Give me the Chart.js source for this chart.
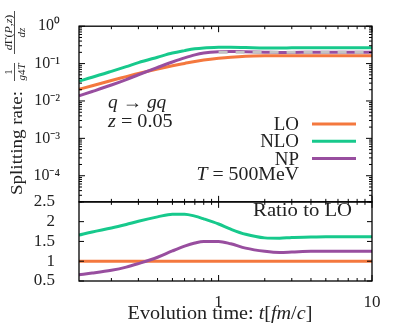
<!DOCTYPE html>
<html>
<head>
<meta charset="utf-8">
<script src="https://cdn.jsdelivr.net/npm/chart.js@4.4.1/dist/chart.umd.min.js"></script>
<style>
  html, body { margin: 0; padding: 0; background: #fff; }
</style>
</head>
<body>
<canvas id="myChart" width="398" height="332"></canvas>
<script>
// evolution time t [fm/c]
var times = [0.123, 0.15, 0.2, 0.25, 0.3, 0.4, 0.5, 0.6, 0.7, 0.8, 1.0, 1.2, 1.5, 2, 2.5, 3, 4, 5, 7, 10];

// splitting rate (upper panel, log axis)
var rateLO  = [0.0205, 0.0255, 0.0353, 0.0447, 0.0543, 0.0718, 0.0873, 0.101, 0.114, 0.124, 0.138, 0.148, 0.157, 0.162, 0.163, 0.163, 0.163, 0.163, 0.163, 0.163];
var rateNLO = [0.034, 0.043, 0.062, 0.083, 0.106, 0.148, 0.191, 0.222, 0.248, 0.262, 0.272, 0.274, 0.269, 0.262, 0.262, 0.264, 0.265, 0.266, 0.266, 0.266];
var rateNP  = [0.0137, 0.0179, 0.0267, 0.0374, 0.0503, 0.0785, 0.110, 0.142, 0.171, 0.191, 0.208, 0.212, 0.207, 0.202, 0.199, 0.199, 0.2, 0.2, 0.2, 0.2];

// grey reference level for NP
var refTimes = [1.0, 10];
var refNP = [0.2, 0.2];

// ratio to LO (lower panel)
var ratioLO  = [1, 1, 1, 1, 1, 1, 1, 1, 1, 1, 1, 1, 1, 1, 1, 1, 1, 1, 1, 1];
var ratioNLO = [1.66, 1.74, 1.84, 1.93, 2.01, 2.12, 2.19, 2.19, 2.14, 2.07, 1.94, 1.81, 1.68, 1.59, 1.58, 1.60, 1.61, 1.62, 1.62, 1.62];
var ratioNP  = [0.66, 0.70, 0.77, 0.85, 0.94, 1.10, 1.26, 1.38, 1.46, 1.50, 1.50, 1.44, 1.33, 1.25, 1.22, 1.23, 1.25, 1.25, 1.25, 1.25];

// axis ticks that carry a label
var xLabels = [1, 10];
var yDecades = [-4, -3, -2, -1, 0];

var ORANGE = "#f4783e";
var GREEN = "#17c98c";
var PURPLE = "#984e9f";
var GREY = "#c4c4c4";
var SERIF = "'Liberation Serif', 'Times New Roman', serif";
var INK = "#222";

var SUP = {"-": "\u207b", "0": "\u2070", "1": "\u00b9", "2": "\u00b2", "3": "\u00b3", "4": "\u2074", "5": "\u2075"};

function pts(xs, ys) {
  return xs.map(function (x, i) { return {x: x, y: ys[i]}; });
}

// integer significand 1..9 of a "round" log tick, 0 otherwise
function significand(v) {
  var e = Math.floor(Math.log10(v) + 1e-9);
  var s = v / Math.pow(10, e);
  var r = Math.round(s);
  return (Math.abs(s - r) < 1e-6 && r < 10) ? r : 0;
}

// draw a run of text pieces [text, italic], stretched by sx (the TeX font is wider)
function run(ctx, parts, x, y, size, align, sx) {
  sx = sx || 1;
  var w = 0;
  parts.forEach(function (p) {
    ctx.font = (p[1] ? "italic " : "") + size + "px " + SERIF;
    w += ctx.measureText(p[0]).width;
  });
  if (align === "right") x -= w * sx;
  if (align === "center") x -= w * sx / 2;
  ctx.save();
  ctx.translate(x, y);
  ctx.scale(sx, 1);
  ctx.textAlign = "left";
  var cx = 0;
  parts.forEach(function (p) {
    ctx.font = (p[1] ? "italic " : "") + size + "px " + SERIF;
    ctx.fillText(p[0], cx, 0);
    cx += ctx.measureText(p[0]).width;
  });
  ctx.restore();
  return w * sx;
}

var decor = {
  id: "decor",
  afterDatasetsDraw: function (chart) {
    var ctx = chart.ctx;
    var area = chart.chartArea;
    var xs = chart.scales.x, yUp = chart.scales.y, yLo = chart.scales.y2;

    ctx.save();
    // panel frames
    ctx.strokeStyle = "#000";
    ctx.lineWidth = 1.3;
    ctx.strokeRect(area.left, yUp.top, area.right - area.left, yUp.bottom - yUp.top);
    ctx.strokeRect(area.left, yLo.top, area.right - area.left, yLo.bottom - yLo.top);

    // inward ticks
    ctx.lineWidth = 1;
    function seg(x1, y1, x2, y2) { ctx.beginPath(); ctx.moveTo(x1, y1); ctx.lineTo(x2, y2); ctx.stroke(); }
    xs.ticks.forEach(function (t) {
      var s = significand(t.value);
      if (!s) return;
      var px = xs.getPixelForValue(t.value);
      var len = s === 1 ? 6 : 3;
      seg(px, yUp.top, px, yUp.top + len);
      seg(px, yUp.bottom, px, yUp.bottom - len);
      seg(px, yLo.top, px, yLo.top + len);
      seg(px, yLo.bottom, px, yLo.bottom - len);
    });
    yUp.ticks.forEach(function (t) {
      var s = significand(t.value);
      if (!s) return;
      var py = yUp.getPixelForValue(t.value);
      var len = s === 1 ? 6 : 3;
      seg(area.left, py, area.left + len, py);
      seg(area.right, py, area.right - len, py);
    });
    yLo.ticks.forEach(function (t) {
      var py = yLo.getPixelForValue(t.value);
      seg(area.left, py, area.left + 5, py);
      seg(area.right, py, area.right - 5, py);
    });

    ctx.fillStyle = INK;
    ctx.textBaseline = "alphabetic";

    // annotations
    run(ctx, [["q", true], [" \u2192 ", false], ["gq", true]], 108, 108, 18, "left", 1.08);
    run(ctx, [["z", true], [" = 0.05", false]], 108, 127, 18, "left", 1.12);
    run(ctx, [["T", true], [" = 500MeV", false]], 299, 180, 18, "right", 1.1);
    run(ctx, [["Ratio to LO", false]], 352, 216, 18, "right", 1.15);

    // legend
    var leg = [["LO", ORANGE], ["NLO", GREEN], ["NP", PURPLE]];
    leg.forEach(function (l, i) {
      var ly = 124 + i * 17.3;
      run(ctx, [[l[0], false]], 299, ly + 6, 18, "right", 1.05);
      ctx.strokeStyle = l[1];
      ctx.lineWidth = 3;
      seg(312, ly, 356, ly);
    });

    // x title
    run(ctx, [["Evolution time: ", false], ["t", true], ["[", false], ["fm", true], ["/", false], ["c", true], ["]", false]], 220, 319, 18, "center", 1.12);

    // y title, rotated
    ctx.save();
    ctx.translate(22, 195);
    ctx.rotate(-Math.PI / 2);
    ctx.font = "17px " + SERIF;
    var w = ctx.measureText("Splitting rate:").width;
    run(ctx, [["Splitting rate:", false]], 0, 0, 17, "left", 104 / w);
    // 1 / (g^4 T)
    run(ctx, [["1", false]], 123, -10, 11, "center");
    run(ctx, [["g", true], ["4", false], ["T", true]], 123, 2.5, 11, "center");
    ctx.strokeStyle = INK;
    ctx.lineWidth = 0.8;
    seg(114, -7.5, 132, -7.5);
    // dGamma(P,z) / dz
    run(ctx, [["d", true], ["\u0393(", false], ["P", true], [",", false], ["z", true], [")", false]], 162.5, -10, 11, "center", 1.08);
    run(ctx, [["dz", true]], 162.5, 2.5, 11, "center");
    seg(141, -7.5, 184, -7.5);
    ctx.restore();

    ctx.restore();
  }
};

var lineStyle = {pointRadius: 0, borderWidth: 3, fill: false, cubicInterpolationMode: "monotone"};

function ds(label, data, axis, color, order, extra) {
  return Object.assign({label: label, data: data, yAxisID: axis, borderColor: color, backgroundColor: color, order: order}, lineStyle, extra || {});
}

var canvas = document.getElementById("myChart");
var myChart = new Chart(canvas, {
  type: "line",
  data: {
    datasets: [
      ds("NP limit", pts(refTimes, refNP), "y", GREY, 0, {borderDash: [9, 8], cubicInterpolationMode: "default", tension: 0}),
      ds("LO", pts(times, rateLO), "y", ORANGE, 3),
      ds("NLO", pts(times, rateNLO), "y", GREEN, 2),
      ds("NP", pts(times, rateNP), "y", PURPLE, 1),
      ds("LO ratio", pts(times, ratioLO), "y2", ORANGE, 3),
      ds("NLO ratio", pts(times, ratioNLO), "y2", GREEN, 2),
      ds("NP ratio", pts(times, ratioNP), "y2", PURPLE, 1)
    ]
  },
  options: {
    responsive: false,
    animation: false,
    devicePixelRatio: 1,
    layout: {padding: {top: 16, right: 26, left: 0, bottom: 0}},
    plugins: {legend: {display: false}, tooltip: {enabled: false}},
    scales: {
      x: {
        type: "logarithmic",
        min: 0.123,
        max: 10,
        grid: {display: false},
        border: {display: false},
        afterFit: function (s) { s.height = 51; },
        ticks: {
          autoSkip: false,
          maxRotation: 0,
          padding: 3,
          color: INK,
          font: {family: SERIF, size: 17},
          callback: function (v) {
            return xLabels.some(function (l) { return Math.abs(v - l) < 1e-9; }) ? String(v) : "";
          }
        }
      },
      y: {
        type: "logarithmic",
        position: "left",
        stack: "panels",
        stackWeight: 182.7,
        weight: 2,
        min: 2e-5,
        max: 1,
        grid: {display: false},
        border: {display: false},
        afterFit: function (s) { s.width = 79; },
        ticks: {
          autoSkip: false,
          padding: 11,
          color: INK,
          font: {family: SERIF, size: 16},
          callback: function (v) {
            var e = Math.round(Math.log10(v));
            if (Math.abs(Math.log10(v) - e) > 1e-6 || yDecades.indexOf(e) < 0) return "";
            return "10" + String(e).split("").map(function (c) { return SUP[c]; }).join("");
          }
        }
      },
      y2: {
        type: "linear",
        position: "left",
        stack: "panels",
        stackWeight: 82.3,
        weight: 1,
        min: 0.5,
        max: 2.5,
        grid: {display: false},
        border: {display: false},
        afterFit: function (s) { s.width = 79; },
        ticks: {
          autoSkip: false,
          stepSize: 0.5,
          padding: 16,
          color: INK,
          font: {family: SERIF, size: 17},
          callback: function (v) { return String(v); }
        }
      }
    }
  },
  plugins: [decor]
});
</script>
</body>
</html>
